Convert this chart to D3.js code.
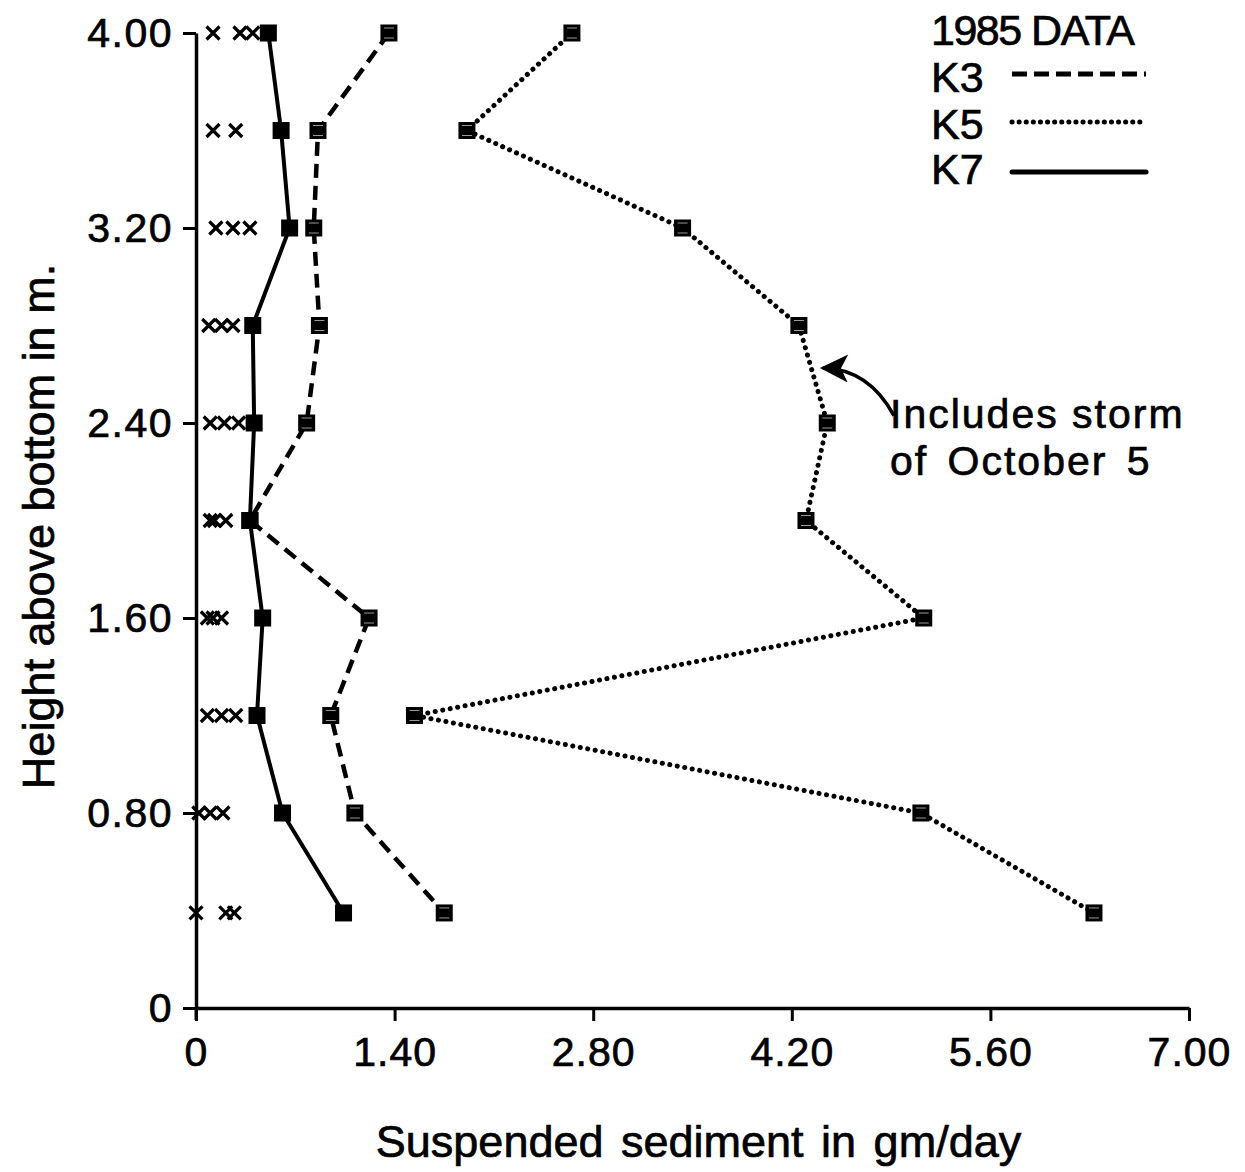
<!DOCTYPE html>
<html>
<head>
<meta charset="utf-8">
<script src="https://cdn.jsdelivr.net/npm/d3@7"></script>
<style>
  html, body { margin: 0; padding: 0; background: #fff; }
  svg { display: block; }
  text { font-family: "Liberation Sans", Arial, Helvetica, sans-serif; fill: #000; stroke: #000; stroke-width: 0.7px; }
</style>
</head>
<body>
<svg id="chart" width="1245" height="1172"></svg>
<script>
// ---- Data ----
const heights = [4.00, 3.60, 3.20, 2.80, 2.40, 2.00, 1.60, 1.20, 0.80, 0.39];
const k3 = [1.36, 0.86, 0.83, 0.87, 0.78, 0.38, 1.22, 0.95, 1.12, 1.75];
const k5 = [2.65, 1.91, 3.43, 4.25, 4.45, 4.30, 5.13, 1.54, 5.11, 6.33];
const k7 = [0.51, 0.60, 0.66, 0.40, 0.41, 0.38, 0.47, 0.43, 0.61, 1.04];
// small values plotted as "x" near the axis, one list per height row
const crossValues = [
  [0.12, 0.31, 0.40],
  [0.12, 0.28],
  [0.14, 0.26, 0.38],
  [0.09, 0.18, 0.26],
  [0.10, 0.20, 0.30],
  [0.10, 0.13, 0.21],
  [0.08, 0.12, 0.18],
  [0.08, 0.18, 0.28],
  [0.02, 0.10, 0.19],
  [0.00, 0.21, 0.27]
];
const xTicks = [0, 1.40, 2.80, 4.20, 5.60, 7.00];
const xTickLabels = ["0", "1.40", "2.80", "4.20", "5.60", "7.00"];
const yTicks = [0, 0.80, 1.60, 2.40, 3.20, 4.00];
const yTickLabels = ["0", "0.80", "1.60", "2.40", "3.20", "4.00"];
const legendTitle = "1985 DATA";
const seriesNames = ["K3", "K5", "K7"];
const xTitle = "Suspended sediment in gm/day";
const yTitle = "Height above bottom in m.";
const noteLines = ["Includes storm", "of October 5"];

// ---- Scales ----
const x = d3.scaleLinear().domain([0, 7]).range([196, 1189]);
const y = d3.scaleLinear().domain([0, 4]).range([1008, 33]);

const svg = d3.select("#chart");
svg.append("rect").attr("width", 1245).attr("height", 1172).attr("fill", "#fff");

// ---- Axes ----
const xAxis = d3.axisBottom(x).tickValues(xTicks).tickFormat((d, i) => xTickLabels[i])
  .tickSize(13).tickSizeOuter(0).tickPadding(16);
const gx = svg.append("g").attr("transform", `translate(0,${y(0)})`).call(xAxis);
gx.select(".domain").attr("stroke", "#000").attr("stroke-width", 3.5);
gx.selectAll(".tick line").attr("stroke", "#000").attr("stroke-width", 3);
gx.selectAll(".tick text").attr("font-size", 41).attr("letter-spacing", 1)
  .attr("font-family", "Liberation Sans, Arial, sans-serif").attr("fill", "#000");

const yAxis = d3.axisLeft(y).tickValues(yTicks).tickFormat((d, i) => yTickLabels[i])
  .tickSize(13).tickSizeOuter(0).tickPadding(10);
const gy = svg.append("g").attr("transform", `translate(${x(0)},0)`).call(yAxis);
gy.select(".domain").attr("stroke", "#000").attr("stroke-width", 3.5);
gy.selectAll(".tick line").attr("stroke", "#000").attr("stroke-width", 3);
gy.selectAll(".tick text").attr("font-size", 41).attr("letter-spacing", 1.5)
  .attr("font-family", "Liberation Sans, Arial, sans-serif").attr("fill", "#000");
// y axis extends a bit below the x axis at the origin
svg.append("line").attr("x1", x(0)).attr("x2", x(0)).attr("y1", y(0)).attr("y2", y(0) + 12)
  .attr("stroke", "#000").attr("stroke-width", 3);

// ---- Titles ----
svg.append("text").attr("x", (x(0) + x(7)) / 2 + 6).attr("y", 1157)
  .attr("text-anchor", "middle").attr("font-size", 45).attr("word-spacing", 5)
  .text(xTitle);
svg.append("text").attr("transform", `translate(54,${(y(0) + y(4)) / 2 + 6}) rotate(-90)`)
  .attr("text-anchor", "middle").attr("font-size", 45)
  .text(yTitle);

// ---- Series ----
const rows = heights.map((h, i) => ({ h, k3: k3[i], k5: k5[i], k7: k7[i] }));
const series = [
  { key: "k3", dash: "14 8", width: 4.5, cap: "butt" },
  { key: "k5", dash: "0.1 7.5", width: 5, cap: "round" },
  { key: "k7", dash: null, width: 4, cap: "butt" }
];
series.forEach(s => {
  const line = d3.line().x(d => x(d[s.key])).y(d => y(d.h));
  svg.append("path").datum(rows).attr("d", line)
    .attr("fill", "none").attr("stroke", "#000").attr("stroke-width", s.width)
    .attr("stroke-linecap", s.cap).attr("stroke-linejoin", "round")
    .attr("stroke-dasharray", s.dash);
});

const ms = 17;
series.forEach(s => {
  const g = svg.append("g");
  g.selectAll("rect").data(rows).join("rect")
    .attr("x", d => x(d[s.key]) - ms / 2).attr("y", d => y(d.h) - ms / 2)
    .attr("width", ms).attr("height", ms).attr("fill", "#000");
  if (s.key !== "k7") {
    g.selectAll("line.hi").data(rows).join("line").attr("class", "hi")
      .attr("x1", d => x(d[s.key]) - 5).attr("x2", d => x(d[s.key]) + 5)
      .attr("y1", d => y(d.h) - 5).attr("y2", d => y(d.h) - 5)
      .attr("stroke", "#fff").attr("stroke-width", 1).attr("opacity", 0.6);
    g.selectAll("line.lo").data(rows).join("line").attr("class", "lo")
      .attr("x1", d => x(d[s.key]) - 5).attr("x2", d => x(d[s.key]) + 5)
      .attr("y1", d => y(d.h) + 5).attr("y2", d => y(d.h) + 5)
      .attr("stroke", "#fff").attr("stroke-width", 1).attr("opacity", 0.6);
  }
});

// ---- Crosses near the axis ----
const crosses = [];
crossValues.forEach((vals, i) => vals.forEach(v => crosses.push({ v, h: heights[i] })));
const cs = 6.5;
svg.append("g").selectAll("path").data(crosses).join("path")
  .attr("d", d => {
    const cx = x(d.v), cy = y(d.h);
    return `M${cx - cs},${cy - cs}L${cx + cs},${cy + cs}M${cx + cs},${cy - cs}L${cx - cs},${cy + cs}`;
  })
  .attr("stroke", "#000").attr("stroke-width", 3.2).attr("fill", "none");

// ---- Legend ----
svg.append("text").attr("x", 931).attr("y", 45).attr("font-size", 43).attr("letter-spacing", -1.5)
  .text(legendTitle);
const legendRows = [
  { name: seriesNames[0], ty: 92, ly: 74, dash: "15 7", width: 5, cap: "butt" },
  { name: seriesNames[1], ty: 139, ly: 122, dash: "0.1 7", width: 5, cap: "round" },
  { name: seriesNames[2], ty: 184, ly: 172, dash: null, width: 5, cap: "round" }
];
legendRows.forEach(r => {
  svg.append("text").attr("x", 931).attr("y", r.ty).attr("font-size", 43).text(r.name);
  svg.append("line").attr("x1", 1012).attr("x2", 1146).attr("y1", r.ly).attr("y2", r.ly)
    .attr("stroke", "#000").attr("stroke-width", r.width).attr("stroke-linecap", r.cap)
    .attr("stroke-dasharray", r.dash);
});

// ---- Annotation ----
const tip = [x(4.39), y(2.63)];
const start = [x(4.92), y(2.43)];
svg.append("defs").append("marker").attr("id", "ah")
  .attr("viewBox", "0 0 10 10").attr("refX", 9).attr("refY", 5)
  .attr("markerWidth", 9).attr("markerHeight", 8).attr("markerUnits", "strokeWidth")
  .attr("orient", "auto")
  .append("path").attr("d", "M0,0L10,5L0,10L2.5,5Z").attr("fill", "#000");
svg.append("path")
  .attr("d", `M${start[0]},${start[1]}Q${start[0] - 25},${tip[1] + 2} ${tip[0] + 4},${tip[1] + 1}`)
  .attr("fill", "none").attr("stroke", "#000").attr("stroke-width", 3.5)
  .attr("marker-end", "url(#ah)");
svg.append("text").attr("x", 890).attr("y", 428).attr("font-size", 41).attr("letter-spacing", 2)
  .text(noteLines[0]);
svg.append("text").attr("x", 890).attr("y", 475).attr("font-size", 41).attr("letter-spacing", 2)
  .attr("word-spacing", 6)
  .text(noteLines[1]);
</script>
</body>
</html>
